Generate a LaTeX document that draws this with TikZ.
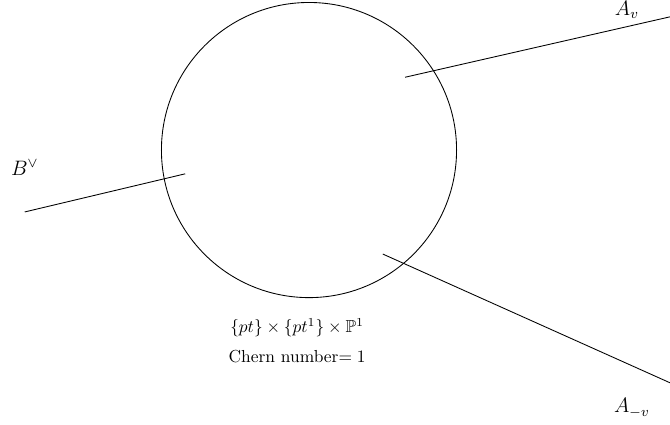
\documentclass[tikz,border=0pt]{standalone}
\usepackage{amsmath,amssymb}
\usepackage{tikz}
\usetikzlibrary{calc}
\tikzset{
  leg/.style    = {line width=0.5pt},
  sphere/.style = {line width=0.5pt},
  lab/.style    = {inner sep=1pt},
  leglab/.style = {inner sep=1pt,font=\large},
}

\begin{document}
\begin{tikzpicture}[x=1cm,y=1cm]
\useasboundingbox (-6.24,-5.54) rectangle (7.29,3.03);
% ---- the sphere ----
\coordinate (O) at (0,0);
\draw[sphere] (O) circle (2.98);
% ---- legs ----
\coordinate (av0) at (1.94,1.47);
\coordinate (av1) at (7.29,2.69);
\coordinate (b0) at (-2.5,-0.48);
\coordinate (b1) at (-5.74,-1.25);
\coordinate (amv0) at (1.49,-2.10);
\coordinate (amv1) at (7.29,-4.70);
\draw[leg] (av0) -- (av1);
\draw[leg] (b0) -- (b1);
\draw[leg] (amv0) -- (amv1);
\node[leglab] (Av) at (6.42,2.83) {$A_v$};
\node[leglab] (Bd) at (-5.74,-0.36) {$B^\vee$};
\node[leglab] (Amv) at (6.52,-5.21) {$A_{-v}$};
% ---- caption ----
\node[lab] (cap1) at (-0.24,-3.59) {$\{pt\}\times\{pt^1\}\times\mathbb{P}^1$};
\node[lab] (cap2) at (-0.24,-4.18) {Chern number$=1$};
\end{tikzpicture}
\end{document}
